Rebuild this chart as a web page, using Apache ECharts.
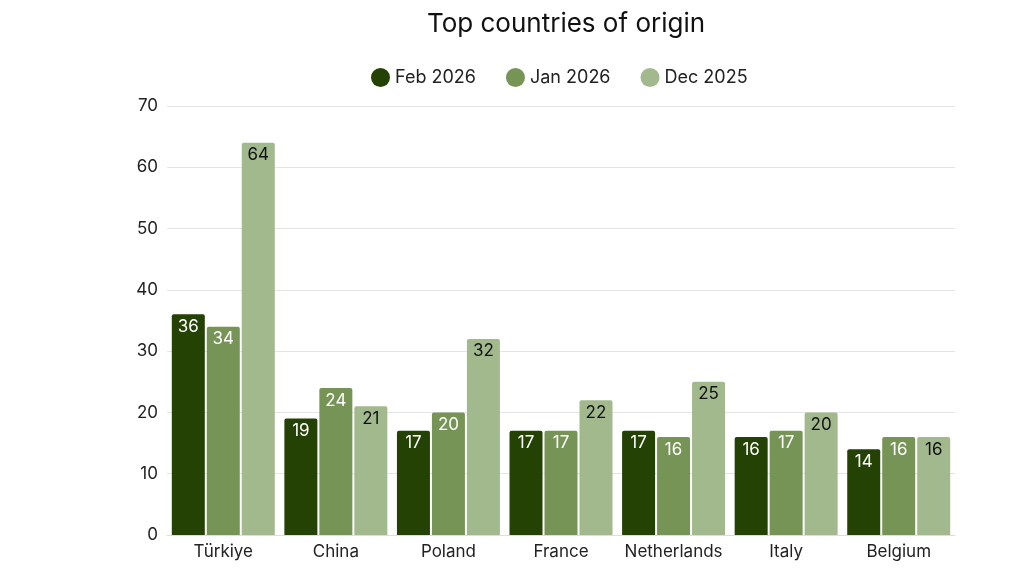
<!DOCTYPE html>
<html>
<head>
<meta charset="utf-8">
<script src="https://cdn.jsdelivr.net/npm/echarts@6/dist/echarts.min.js"></script>
<style>
  html, body { margin: 0; padding: 0; background: #fff; }
  #main { width: 1024px; height: 576px; }
</style>
</head>
<body>
<div id="main"></div>
<script>
var countries = ['Türkiye', 'China', 'Poland', 'France', 'Netherlands', 'Italy', 'Belgium'];
var feb2026 = [36, 19, 17, 17, 17, 16, 14];
var jan2026 = [34, 24, 20, 17, 16, 17, 16];
var dec2025 = [64, 21, 32, 22, 25, 20, 16];

var myChart = echarts.init(document.getElementById('main'));

function barSeries(name, data, color, labelColor) {
    return {
        name: name,
        type: 'bar',
        data: data,
        barWidth: 33,
        barGap: '6%',
        itemStyle: { color: color, borderRadius: [2, 2, 0, 0] },
        label: {
            show: true,
            position: 'insideTop',
            distance: 4,
            color: labelColor,
            fontSize: 17,
            fontFamily: 'Inter'
        }
    };
}

var option = {
    textStyle: { fontFamily: 'Inter' },
    title: {
        text: 'Top countries of origin',
        left: 561,
        top: 6,
        textAlign: 'center',
        textStyle: { fontSize: 26, fontWeight: 'normal', color: '#111', fontFamily: 'Inter' }
    },
    legend: {
        left: 366,
        top: 63,
        icon: 'circle',
        itemWidth: 19,
        itemHeight: 19,
        itemGap: 30,
        textStyle: { fontSize: 18, color: '#222', fontFamily: 'Inter' }
    },
    grid: {
        left: 167,
        right: 69,
        top: 106,
        bottom: 41,
        containLabel: false
    },
    xAxis: {
        type: 'category',
        data: countries,
        axisTick: { show: false },
        axisLine: { lineStyle: { color: '#ddd' } },
        axisLabel: { fontSize: 17, color: '#222', margin: 8, interval: 0 }
    },
    yAxis: {
        type: 'value',
        min: 0,
        max: 70,
        interval: 10,
        axisLabel: { fontSize: 17, color: '#222', margin: 9 },
        splitLine: { lineStyle: { color: '#e4e4e4' } }
    },
    series: [
        barSeries('Feb 2026', feb2026, '#244204', '#fff'),
        barSeries('Jan 2026', jan2026, '#779457', '#fff'),
        barSeries('Dec 2025', dec2025, '#a2b88d', '#111')
    ]
};

myChart.setOption(option);
</script>
</body>
</html>
